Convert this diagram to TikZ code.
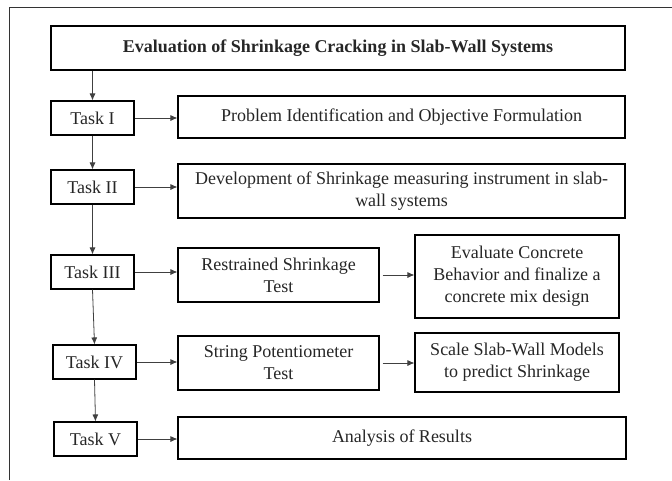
\documentclass[tikz,border=0pt]{standalone}
\usepackage{fontspec}
\setmainfont{Liberation Serif}
\usetikzlibrary{arrows.meta}
\tikzset{> = {Latex[length=7pt,width=6pt]}, color=black!85}
\tikzset{
  taskbox/.style={draw, line width=1.1pt, minimum width=83pt, minimum height=34pt,
    inner sep=0pt, font=\fontsize{18}{22}\selectfont},
  stepbox/.style={draw, line width=1.1pt, inner sep=0pt, align=center,
    font=\fontsize{18}{22}\selectfont},
  flow/.style={->, line width=0.8pt, black!75}
}

\begin{document}
\begin{tikzpicture}[x=1pt, y=-1pt]
	\useasboundingbox (0,0) rectangle (672,480);
	\draw[line width=0.9pt, black!80] (9,480) -- (9,7) -- (672,7);
	% title and tasks
	\node[stepbox, minimum width=574pt, minimum height=44pt, font=\fontsize{18}{22}\selectfont\bfseries]
	    (title) at (338,48) {Evaluation of Shrinkage Cracking in Slab-Wall Systems};
	\node[taskbox] (t1) at (92.5,118) {Task I};
	\node[taskbox] (t2) at (92.5,187) {Task II};
	\node[taskbox] (t3) at (92.5,272) {Task III};
	\node[taskbox] (t4) at (94.5,362) {Task IV};
	\node[taskbox] (t5) at (95.5,439) {Task V};
	% steps
	\node[stepbox, minimum width=447pt, minimum height=42pt] (p1) at (401.5,117)
	    {Problem Identification and Objective Formulation};
	\node[stepbox, minimum width=447pt, minimum height=54pt] (p2) at (401.5,191)
	    {Development of Shrinkage measuring instrument in slab-\\wall systems};
	\node[stepbox, minimum width=201pt, minimum height=54pt] (p3) at (278.5,275)
	    {Restrained Shrinkage\\Test};
	\node[stepbox, minimum width=204pt, minimum height=83pt] (q3) at (517,276.5)
	    {Evaluate Concrete\\Behavior and finalize a\\concrete mix design};
	\node[stepbox, minimum width=201pt, minimum height=54pt] (p4) at (278.5,363)
	    {String Potentiometer\\Test};
	\node[stepbox, minimum width=204pt, minimum height=59pt] (q4) at (517,362.5)
	    {Scale Slab-Wall Models\\to predict Shrinkage};
	\node[stepbox, minimum width=448pt, minimum height=42pt] (p5) at (402,438)
	    {Analysis of Results};
	% connectors
	\draw[flow] (title.south -| t1) -- (t1.north);
	\draw[flow] (t1.south) -- (t2.north);
	\draw[flow] (t2.south) -- (t3.north);
	\draw[flow] (t3.south) -- (t4.north);
	\draw[flow] (t4.south) -- (t5.north);
	\draw[flow] (t1.east) -- (t1.east -| p1.west);
	\draw[flow] (t2.east) -- (t2.east -| p2.west);
	\draw[flow] (t3.east) -- (t3.east -| p3.west);
	\draw[flow] (t4.east) -- (t4.east -| p4.west);
	\draw[flow] (t5.east) -- (t5.east -| p5.west);
	\draw[flow, shorten <=3pt] (p3.east) -- (p3.east -| q3.west);
	\draw[flow, shorten <=3pt] (p4.east) -- (p4.east -| q4.west);
\end{tikzpicture}
\end{document}
